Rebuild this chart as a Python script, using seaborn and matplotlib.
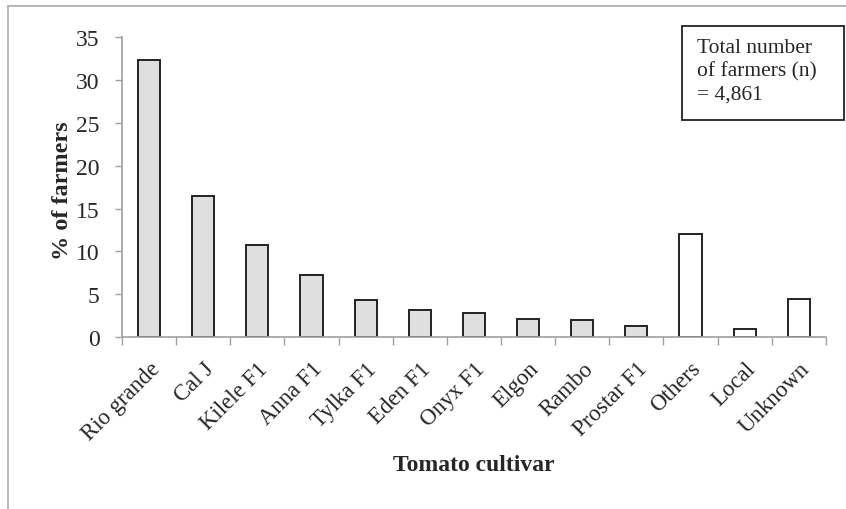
import numpy as np
import pandas as pd
import matplotlib
matplotlib.use("Agg")
import matplotlib.pyplot as plt
from matplotlib.patches import Rectangle
import seaborn as sns

# values
cultivars = ["Rio grande", "Cal J", "Kilele F1", "Anna F1", "Tylka F1", "Eden F1",
             "Onyx F1", "Elgon", "Rambo", "Prostar F1", "Others", "Local", "Unknown"]
pct_farmers = [32.3, 16.5, 10.8, 7.3, 4.35, 3.2, 2.85, 2.15, 1.95, 1.3, 12.0, 0.95, 4.4]
named = [True] * 10 + [False] * 3
y_ticks = [0, 5, 10, 15, 20, 25, 30, 35]

sns.set_theme(style="white")
plt.rcParams["font.family"] = ["Liberation Serif", "DejaVu Serif"]

df = pd.DataFrame({"cultivar": cultivars, "pct": pct_farmers})
fills = {c: ("#dfdfe0" if n else "white") for c, n in zip(cultivars, named)}

fig = plt.figure(figsize=(8.46, 5.10), dpi=100)
ax = fig.add_axes([0.1442, 0.337, 0.832, 0.5885])

sns.barplot(data=df, x="cultivar", y="pct", hue="cultivar", palette=fills,
            width=0.41, edgecolor="#222222", linewidth=1.4, saturation=1,
            legend=False, ax=ax)

ax.set_xlim(-0.5, len(cultivars) - 0.5)
ax.set_ylim(0, 35)
ax.set_yticks(y_ticks)
ax.set_yticklabels([str(t) for t in y_ticks], fontsize=17)

# category boundary ticks on x axis, labels at centres
ax.set_xticks(np.arange(len(cultivars) + 1) - 0.5, minor=False)
ax.set_xticklabels([])
ax.set_xticks(np.arange(len(cultivars)), minor=True)
ax.set_xticklabels(cultivars, minor=True, rotation=45, ha="right",
                   rotation_mode="anchor", fontsize=16.5)
ax.tick_params(axis="x", which="major", direction="out", length=6, width=1,
               color="#a0a0a0", bottom=True)
ax.tick_params(axis="x", which="minor", length=0, pad=15, bottom=True)
ax.tick_params(axis="y", direction="out", length=5, width=1, color="#a0a0a0",
               left=True, pad=11)

for side in ["top", "right"]:
    ax.spines[side].set_visible(False)
for side in ["left", "bottom"]:
    ax.spines[side].set_color("#a0a0a0")
    ax.spines[side].set_linewidth(1.2)

ax.set_xlabel("Tomato cultivar", fontsize=17, fontweight="bold")
ax.set_ylabel("% of farmers", fontsize=17.5, fontweight="bold")
ax.xaxis.set_label_coords(0.5, -0.39)
ax.yaxis.set_label_coords(-0.07, 0.49)

# note box in the top right
fig.patches.append(Rectangle((0.806, 1 - 121 / 510), 0.192, 94 / 510,
                             transform=fig.transFigure, facecolor="white",
                             edgecolor="#222222", linewidth=1.3))
fig.text(697 / 846, 1 - 39 / 510, "Total number\nof farmers (n)\n= 4,861",
         fontsize=15.5, va="top", ha="left", linespacing=1.28)

# outer grey frame of the original figure
fig.patches.append(Rectangle((0.0095, -0.05), 1.1, 1.036, transform=fig.transFigure,
                             fill=False, edgecolor="#b0b0b0", linewidth=1.3))

fig.savefig("out.png", dpi=100)
